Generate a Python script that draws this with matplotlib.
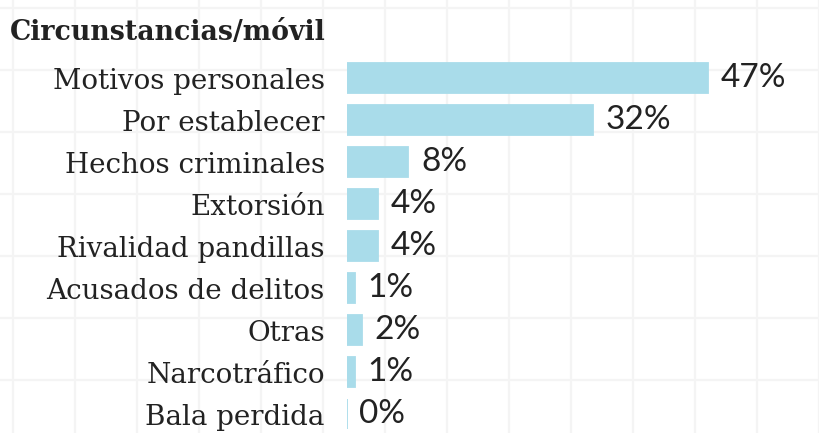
import matplotlib.pyplot as plt
from matplotlib.lines import Line2D

categories = ["Motivos personales", "Por establecer", "Hechos criminales",
              "Extorsión", "Rivalidad pandillas", "Acusados de delitos",
              "Otras", "Narcotráfico", "Bala perdida"]
values = [47, 32, 8, 4, 4, 1, 2, 1, 0]
labels = ["47%", "32%", "8%", "4%", "4%", "1%", "2%", "1%", "0%"]
title = "Circunstancias/móvil"

W, H = 820, 433
fig = plt.figure(figsize=(W / 100, H / 100), dpi=100)

# faint background grid, in pixel units
for gx in range(13, W, 62):
    fig.add_artist(Line2D([gx / W, gx / W], [0, 1], color="#f4f4f4", lw=1.6, zorder=0))
for gy in range(8, H, 62):
    fig.add_artist(Line2D([0, 1], [1 - gy / H, 1 - gy / H], color="#f4f4f4", lw=1.6, zorder=0))

ax = fig.add_axes([347 / W, 0, 461 / W, 376 / H])
ax.set_facecolor("none")
y = list(range(len(categories)))
ax.barh(y, values, height=0.714, color="#a9dcea", edgecolor="#a9dcea", lw=1.3, left=0)
ax.set_xlim(0, 60)
ax.set_ylim(8.452, -0.5)

ax.set_yticks(y)
ax.set_yticklabels(categories, fontfamily="DejaVu Serif", fontsize=20, color="#222222")
ax.tick_params(axis="y", length=0, pad=16)
ax.set_xticks([])
for s in ax.spines.values():
    s.set_visible(False)

for yi, v, lab in zip(y, values, labels):
    ax.annotate(lab, (v, yi), xytext=(9, 0), textcoords="offset points",
                va="center", ha="left", fontfamily="Lato", fontsize=24,
                color="#222222")

fig.text(10 / W, 1 - 33 / H, title, fontfamily="DejaVu Serif", fontweight="bold",
         fontsize=19.3, color="#222222", va="center", ha="left")

fig.savefig("out.png", dpi=100, facecolor="white")
